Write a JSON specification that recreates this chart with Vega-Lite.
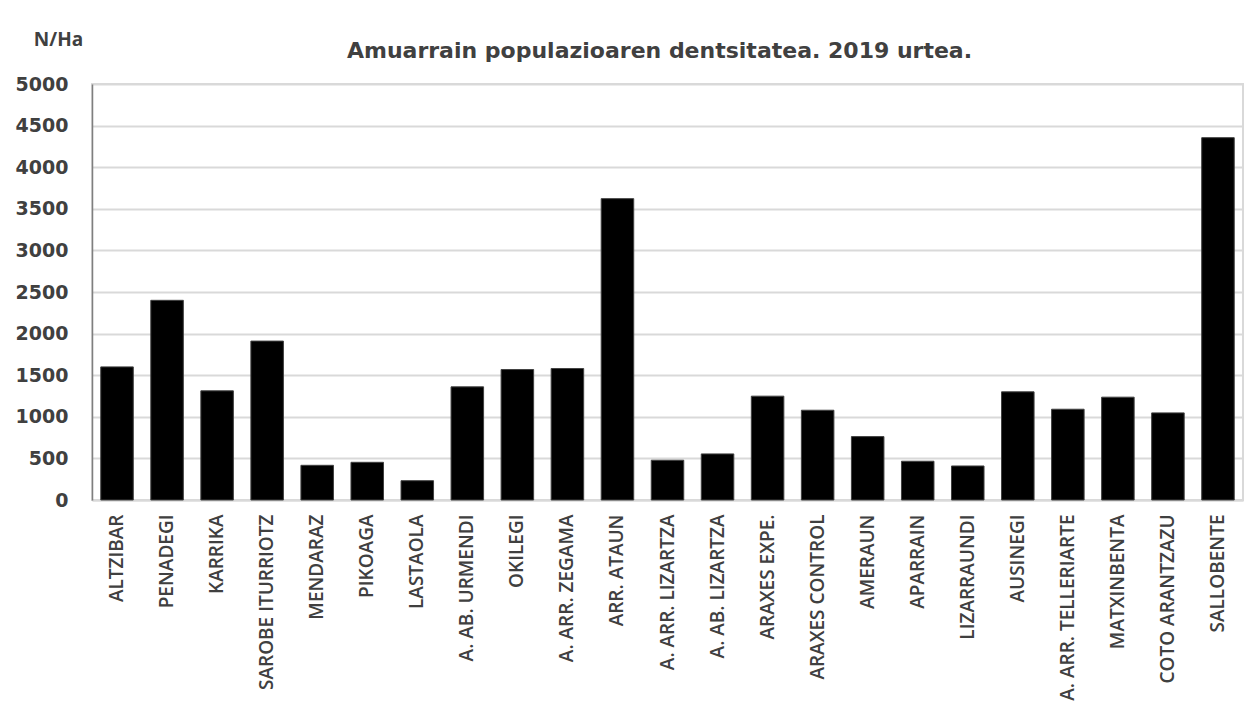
{
  "$schema": "https://vega.github.io/schema/vega-lite/v6.json",
  "autosize": {"type": "none"},
  "padding": {"left": 92, "top": 84, "right": 15, "bottom": 224},
  "width": 1151,
  "height": 416,
  "background": "white",
  "title": {
    "text": "Amuarrain populazioaren dentsitatea. 2019 urtea.",
    "font": "DejaVu Sans",
    "fontSize": 22,
    "fontWeight": "bold",
    "color": "#404040",
    "anchor": "middle",
    "frame": "group",
    "offset": -33,
    "dx": -8
  },
  "data": {
    "values": [
      {"site": "ALTZIBAR", "value": 1600},
      {"site": "PENADEGI", "value": 2400},
      {"site": "KARRIKA", "value": 1312},
      {"site": "SAROBE ITURRIOTZ", "value": 1910},
      {"site": "MENDARAZ", "value": 417},
      {"site": "PIKOAGA", "value": 453},
      {"site": "LASTAOLA", "value": 232},
      {"site": "A. AB. URMENDI", "value": 1360},
      {"site": "OKILEGI", "value": 1568},
      {"site": "A. ARR. ZEGAMA", "value": 1580},
      {"site": "ARR. ATAUN", "value": 3622},
      {"site": "A. ARR. LIZARTZA", "value": 478},
      {"site": "A. AB. LIZARTZA", "value": 554},
      {"site": "ARAXES EXPE.", "value": 1248},
      {"site": "ARAXES CONTROL", "value": 1079},
      {"site": "AMERAUN", "value": 762},
      {"site": "APARRAIN", "value": 466},
      {"site": "LIZARRAUNDI", "value": 409},
      {"site": "AUSINEGI", "value": 1300},
      {"site": "A. ARR. TELLERIARTE", "value": 1091},
      {"site": "MATXINBENTA", "value": 1236},
      {"site": "COTO ARANTZAZU", "value": 1047},
      {"site": "SALLOBENTE", "value": 4355}
    ]
  },
  "mark": {"type": "bar", "color": "black", "stroke": "#404040", "strokeWidth": 1},
  "encoding": {
    "x": {
      "field": "site",
      "type": "nominal",
      "sort": null,
      "scale": {"paddingInner": 0.35, "paddingOuter": 0.175},
      "axis": {
        "title": null,
        "labelAngle": -90,
        "labelAlign": "right",
        "labelBaseline": "middle",
        "labelFont": "Open Sans",
        "labelFontSize": 19,
        "labelFontWeight": 600,
        "labelColor": "#404040",
        "labelPadding": 14,
        "ticks": false,
        "domainColor": "#d9d9d9",
        "domainWidth": 2,
        "labelLimit": 300
      }
    },
    "y": {
      "field": "value",
      "type": "quantitative",
      "scale": {"domain": [0, 5000], "nice": false},
      "axis": {
        "values": [0, 500, 1000, 1500, 2000, 2500, 3000, 3500, 4000, 4500, 5000],
        "format": "d",
        "title": "N/Ha",
        "titleAngle": 0,
        "titleX": -34,
        "titleY": -45,
        "titleAlign": "center",
        "titleBaseline": "middle",
        "titleFont": "Open Sans",
        "titleFontSize": 19,
        "titleFontWeight": "bold",
        "titleColor": "#404040",
        "labelFont": "DejaVu Sans",
        "labelFontSize": 19,
        "labelFontWeight": "bold",
        "labelColor": "#404040",
        "labelPadding": 24,
        "ticks": false,
        "domainColor": "#7f7f7f",
        "domainWidth": 1.5,
        "grid": true,
        "gridColor": "#d9d9d9",
        "gridWidth": 2
      }
    }
  },
  "config": {
    "view": {"stroke": "#d9d9d9", "strokeWidth": 2}
  }
}
